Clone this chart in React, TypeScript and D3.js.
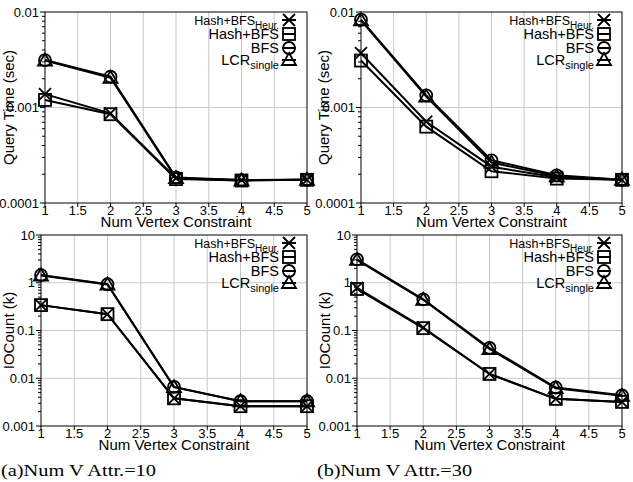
import React from 'react';
import * as d3 from 'd3';

// x positions and tick labels shared by all four plots
const xValues = [1, 2, 3, 4, 5];
const xTicks = [1, 1.5, 2, 2.5, 3, 3.5, 4, 4.5, 5];

const timeTicks = [0.0001, 0.001, 0.01];
const timeTickLabels = ['0.0001', '0.001', '0.01'];
const ioTicks = [0.001, 0.01, 0.1, 1, 10];
const ioTickLabels = ['0.001', '0.01', '0.1', '1', '10'];

// legend: main name + subscript
const seriesNames = ['Hash+BFS', 'Hash+BFS', 'BFS', 'LCR'];
const seriesSubs = ['Heur.', '', '', 'single'];
const seriesMarks = ['cross', 'square', 'circle', 'triangle'];

// query time (sec), 10 vertex attributes
const time10Heur = [0.00138, 0.00087, 0.000182, 0.000174, 0.000175];
const time10Hash = [0.0012, 0.00085, 0.000178, 0.000172, 0.000175];
const time10Bfs = [0.00314, 0.0021, 0.000185, 0.000174, 0.000175];
const time10Lcr = [0.0031, 0.00205, 0.000182, 0.000172, 0.000175];

// query time (sec), 30 vertex attributes
const time30Heur = [0.0037, 0.00071, 0.00024, 0.000185, 0.000175];
const time30Hash = [0.0031, 0.00063, 0.000215, 0.00018, 0.000175];
const time30Bfs = [0.0083, 0.00134, 0.00028, 0.000195, 0.000175];
const time30Lcr = [0.0082, 0.0013, 0.000265, 0.00019, 0.000175];

// IO count (k), 10 vertex attributes
const io10Heur = [0.34, 0.22, 0.0038, 0.0026, 0.0026];
const io10Hash = [0.34, 0.22, 0.0038, 0.0026, 0.0026];
const io10Bfs = [1.45, 0.93, 0.0066, 0.0033, 0.0033];
const io10Lcr = [1.42, 0.92, 0.0065, 0.0033, 0.0033];

// IO count (k), 30 vertex attributes
const io30Heur = [0.78, 0.115, 0.0123, 0.0037, 0.0032];
const io30Hash = [0.74, 0.112, 0.0123, 0.0037, 0.0032];
const io30Bfs = [3.1, 0.45, 0.043, 0.0064, 0.0044];
const io30Lcr = [3.0, 0.44, 0.041, 0.0062, 0.0043];

const FONT = '"Liberation Sans", Arial, Helvetica, sans-serif';
const GRID = '#c9c9c9';

const Marker = ({ type, x, y }: { type: string; x: number; y: number }) => {
  const r = 6;
  const common = { fill: 'none', stroke: '#000', strokeWidth: 1.8 };
  if (type === 'cross') {
    return (
      <path d={`M${x - r},${y - r}L${x + r},${y + r}M${x - r},${y + r}L${x + r},${y - r}`} {...common} />
    );
  }
  if (type === 'square') {
    return <rect x={x - r} y={y - r} width={2 * r} height={2 * r} {...common} />;
  }
  if (type === 'circle') {
    return <circle cx={x} cy={y} r={r} {...common} />;
  }
  return <path d={`M${x},${y - r - 1}L${x + r + 1},${y + r - 1}L${x - r - 1},${y + r - 1}Z`} {...common} />;
};

type PanelProps = {
  left: number;
  right: number;
  top: number;
  bottom: number;
  yTicks: number[];
  yTickLabels: string[];
  yTitle: string;
  yTitleX: number;
  series: number[][];
};

const Panel = ({ left, right, top, bottom, yTicks, yTickLabels, yTitle, yTitleX, series }: PanelProps) => {
  const x = d3.scaleLinear().domain([1, 5]).range([left, right]);
  const y = d3.scaleLog().domain([yTicks[0], yTicks[yTicks.length - 1]]).range([bottom, top]);
  const line = d3.line<number>().x((_, i) => x(xValues[i])).y(d => y(d));

  const minor: number[] = [];
  yTicks.slice(0, -1).forEach(t => {
    for (let k = 2; k <= 9; k++) minor.push(t * k);
  });

  return (
    <g fontFamily={FONT}>
      {/* grid */}
      {xTicks.slice(1, -1).map(t => (
        <line key={'gx' + t} x1={x(t)} x2={x(t)} y1={top} y2={bottom} stroke={GRID} strokeWidth={1} />
      ))}
      {yTicks.slice(1, -1).map(t => (
        <line key={'gy' + t} x1={left} x2={right} y1={y(t)} y2={y(t)} stroke={GRID} strokeWidth={1} />
      ))}
      {/* frame and ticks */}
      <rect x={left} y={top} width={right - left} height={bottom - top} fill="none" stroke="#000" strokeWidth={1} />
      {yTicks.map(t => (
        <line key={'ty' + t} x1={left - 5} x2={left} y1={y(t)} y2={y(t)} stroke="#000" />
      ))}
      {minor.map(t => (
        <line key={'my' + t} x1={left - 3} x2={left} y1={y(t)} y2={y(t)} stroke="#000" />
      ))}
      {xTicks.map(t => (
        <line key={'tx' + t} x1={x(t)} x2={x(t)} y1={bottom} y2={bottom + 4} stroke="#000" />
      ))}
      {yTicks.map((t, i) => (
        <text key={'ly' + t} x={left - 6} y={y(t)} dy="0.35em" textAnchor="end" fontSize={13}>
          {yTickLabels[i]}
        </text>
      ))}
      {xTicks.map(t => (
        <text key={'lx' + t} x={x(t)} y={bottom + 12} textAnchor="middle" fontSize={13}>
          {t}
        </text>
      ))}
      <text x={(left + right) / 2} y={bottom + 24} textAnchor="middle" fontSize={15}>
        Num Vertex Constraint
      </text>
      <text
        transform={`translate(${yTitleX},${(top + bottom) / 2}) rotate(-90)`}
        textAnchor="middle"
        fontSize={15}
      >
        {yTitle}
      </text>

      {/* series */}
      {series.map((vals, si) => (
        <g key={'s' + si}>
          <path d={line(vals) || ''} fill="none" stroke="#000" strokeWidth={2} />
          {vals.map((v, i) => (
            <Marker key={i} type={seriesMarks[si]} x={x(xValues[i])} y={y(v)} />
          ))}
        </g>
      ))}

      {/* legend */}
      {seriesNames.map((name, si) => {
        const cy = top + 8 + si * 14 - (si === 3 ? 2 : 0);
        const sx = right - 18;
        return (
          <g key={'lg' + si}>
            <text x={right - 28} y={cy + 5} textAnchor="end" fontSize={si === 0 ? 12.5 : 14.5}>
              {name}
              {seriesSubs[si] && (
                <tspan fontSize={si === 0 ? 10 : 11} dy={4}>
                  {seriesSubs[si]}
                </tspan>
              )}
            </text>
            <line x1={sx - 7} x2={sx + 7} y1={cy} y2={cy} stroke="#000" strokeWidth={2} />
            <Marker type={seriesMarks[si]} x={sx} y={cy} />
          </g>
        );
      })}
    </g>
  );
};

export default function App() {
  return (
    <svg
      width={633}
      height={482}
      style={{ position: 'absolute', left: 0, top: 0, background: '#fff' }}
    >
      <rect width={633} height={482} fill="#fff" />
      <Panel
        left={45} right={307} top={12} bottom={203}
        yTicks={timeTicks} yTickLabels={timeTickLabels}
        yTitle="Query Time (sec)" yTitleX={14}
        series={[time10Heur, time10Hash, time10Bfs, time10Lcr]}
      />
      <Panel
        left={361} right={622} top={12} bottom={203}
        yTicks={timeTicks} yTickLabels={timeTickLabels}
        yTitle="Query Time (sec)" yTitleX={329}
        series={[time30Heur, time30Hash, time30Bfs, time30Lcr]}
      />
      <Panel
        left={41} right={307} top={235} bottom={426}
        yTicks={ioTicks} yTickLabels={ioTickLabels}
        yTitle="IOCount (k)" yTitleX={14}
        series={[io10Heur, io10Hash, io10Bfs, io10Lcr]}
      />
      <Panel
        left={357} right={622} top={235} bottom={426}
        yTicks={ioTicks} yTickLabels={ioTickLabels}
        yTitle="IOCount (k)" yTitleX={330}
        series={[io30Heur, io30Hash, io30Bfs, io30Lcr]}
      />
      <text x={1} y={476} fontFamily='"Liberation Serif", serif' fontSize={17} textLength={155} lengthAdjust="spacingAndGlyphs">
        (a)Num V Attr.=10
      </text>
      <text x={317} y={476} fontFamily='"Liberation Serif", serif' fontSize={17} textLength={155} lengthAdjust="spacingAndGlyphs">
        (b)Num V Attr.=30
      </text>
    </svg>
  );
}
